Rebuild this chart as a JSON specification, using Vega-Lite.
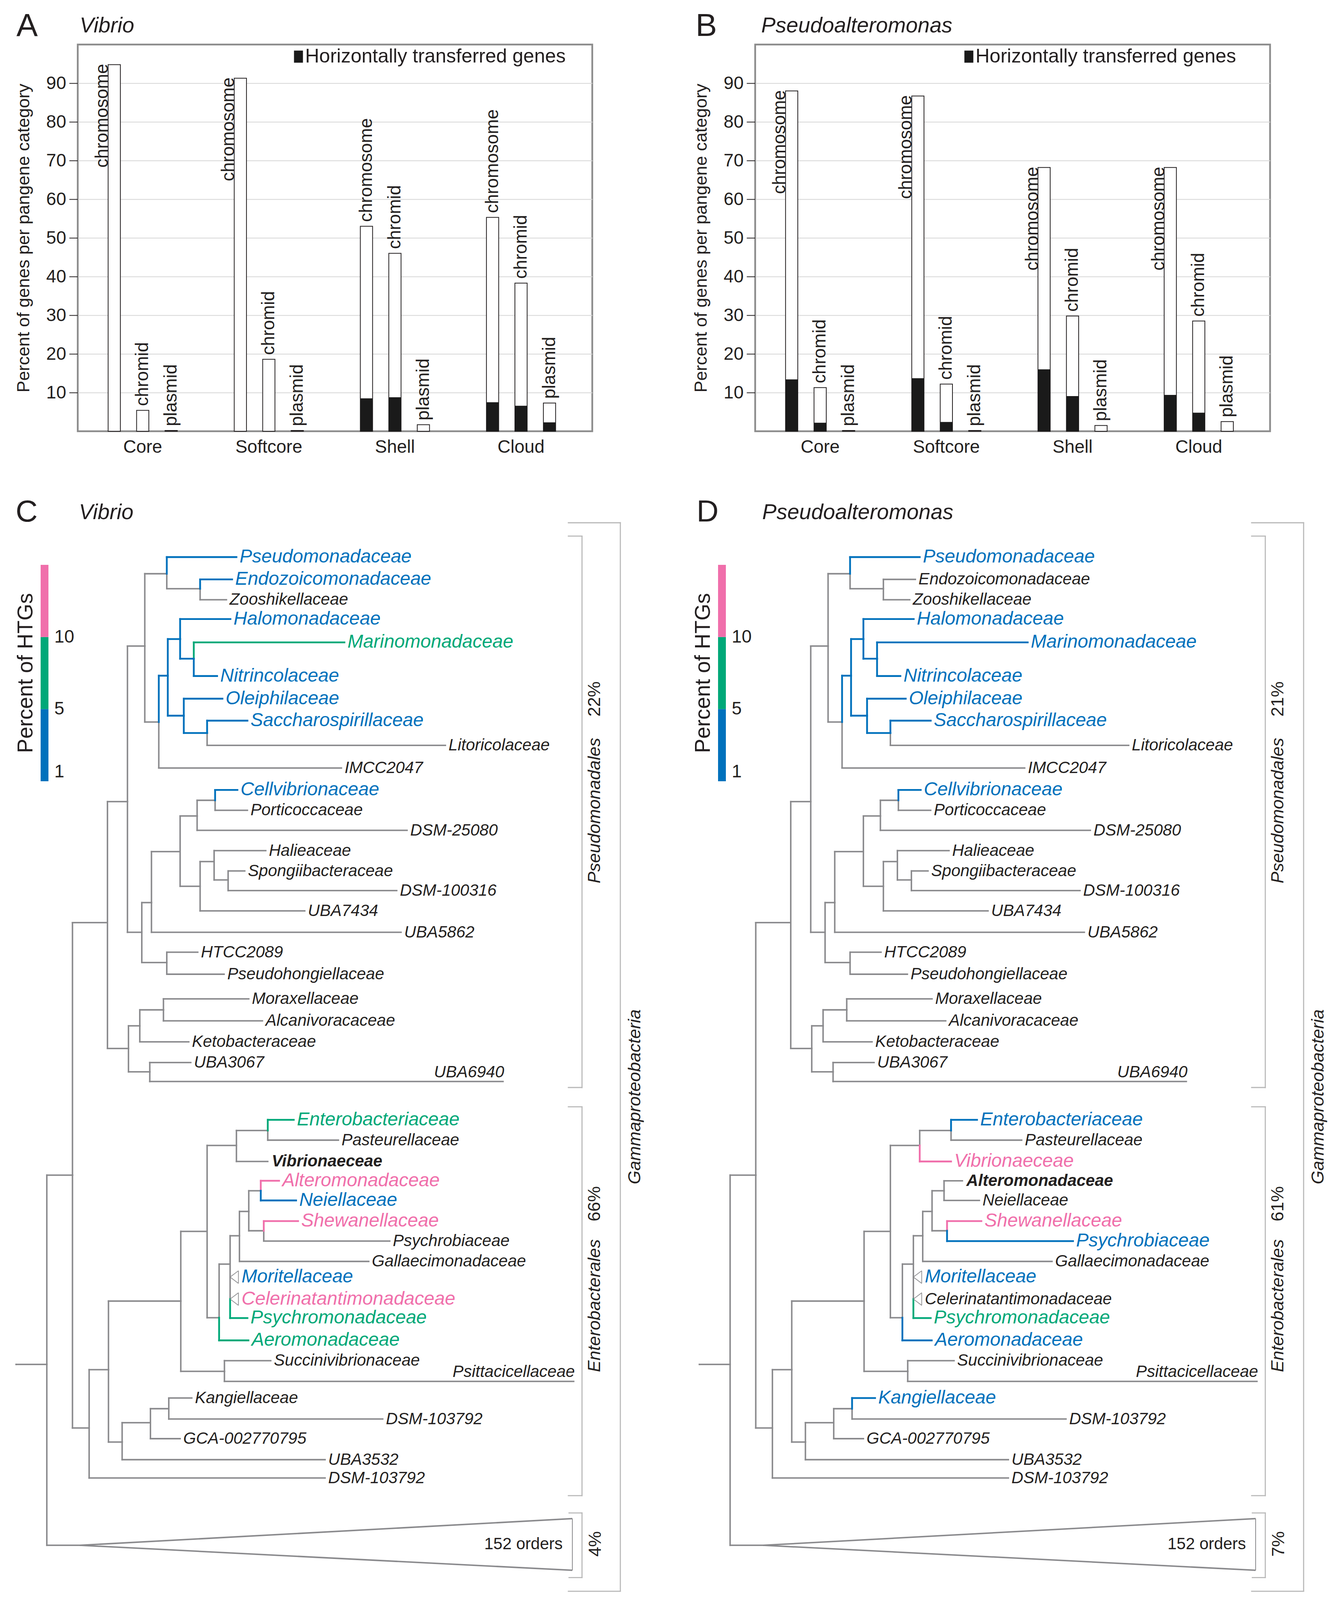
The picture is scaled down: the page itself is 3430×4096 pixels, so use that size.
{
"$schema": "https://vega.github.io/schema/vega-lite/v6.json",
"background": "white",
"padding": {"left": 36, "top": 23, "right": 5, "bottom": 5},
"spacing": 103,
"config": {
  "font": "Liberation Sans",
  "view": {"stroke": null},
  "axis": {"labelFont": "Liberation Sans", "titleFont": "Liberation Sans", "labelColor": "#231f20", "titleColor": "#231f20"},
  "legend": {"labelFont": "Liberation Sans", "titleFont": "Liberation Sans", "labelColor": "#231f20", "titleColor": "#231f20", "labelLimit": 2000, "titleLimit": 2000},
  "title": {"font": "Liberation Sans", "subtitleFont": "Liberation Sans", "color": "#231f20", "subtitleColor": "#231f20"},
  "text": {"font": "Liberation Sans"}
},
"datasets": {
  "bars": [
    {"genus":"Vibrio","category":"Core","replicon":"chromosome","total":94.8,"htg":0},
    {"genus":"Vibrio","category":"Core","replicon":"chromid","total":5.4,"htg":0},
    {"genus":"Vibrio","category":"Core","replicon":"plasmid","total":0.2,"htg":0},
    {"genus":"Vibrio","category":"Softcore","replicon":"chromosome","total":91.3,"htg":0},
    {"genus":"Vibrio","category":"Softcore","replicon":"chromid","total":18.6,"htg":0},
    {"genus":"Vibrio","category":"Softcore","replicon":"plasmid","total":0.2,"htg":0},
    {"genus":"Vibrio","category":"Shell","replicon":"chromosome","total":53.0,"htg":8.5},
    {"genus":"Vibrio","category":"Shell","replicon":"chromid","total":46.0,"htg":8.8},
    {"genus":"Vibrio","category":"Shell","replicon":"plasmid","total":1.7,"htg":0},
    {"genus":"Vibrio","category":"Cloud","replicon":"chromosome","total":55.3,"htg":7.5},
    {"genus":"Vibrio","category":"Cloud","replicon":"chromid","total":38.3,"htg":6.6},
    {"genus":"Vibrio","category":"Cloud","replicon":"plasmid","total":7.3,"htg":2.3},
    {"genus":"Pseudoalteromonas","category":"Core","replicon":"chromosome","total":88.0,"htg":13.4},
    {"genus":"Pseudoalteromonas","category":"Core","replicon":"chromid","total":11.3,"htg":2.2},
    {"genus":"Pseudoalteromonas","category":"Core","replicon":"plasmid","total":0.2,"htg":0},
    {"genus":"Pseudoalteromonas","category":"Softcore","replicon":"chromosome","total":86.7,"htg":13.7},
    {"genus":"Pseudoalteromonas","category":"Softcore","replicon":"chromid","total":12.2,"htg":2.4},
    {"genus":"Pseudoalteromonas","category":"Softcore","replicon":"plasmid","total":0.2,"htg":0},
    {"genus":"Pseudoalteromonas","category":"Shell","replicon":"chromosome","total":68.2,"htg":16.0},
    {"genus":"Pseudoalteromonas","category":"Shell","replicon":"chromid","total":29.8,"htg":9.1},
    {"genus":"Pseudoalteromonas","category":"Shell","replicon":"plasmid","total":1.5,"htg":0},
    {"genus":"Pseudoalteromonas","category":"Cloud","replicon":"chromosome","total":68.2,"htg":9.4},
    {"genus":"Pseudoalteromonas","category":"Cloud","replicon":"chromid","total":28.5,"htg":4.8},
    {"genus":"Pseudoalteromonas","category":"Cloud","replicon":"plasmid","total":2.5,"htg":0}
  ],
  "edges": [
    {"px":45,"py":4091,"cx":137,"cy":4091},
    {"px":137,"py":4091,"cx":214,"cy":3523},
    {"px":137,"py":4091,"cx":236,"cy":4634},
    {"px":214,"py":3523,"cx":319,"cy":2765},
    {"px":214,"py":3523,"cx":264,"cy":4282},
    {"px":319,"py":2765,"cx":379,"cy":2402},
    {"px":319,"py":2765,"cx":382,"cy":3143},
    {"px":379,"py":2402,"cx":431,"cy":1935},
    {"px":379,"py":2402,"cx":422,"cy":2794},
    {"px":431,"py":1935,"cx":497,"cy":1718},
    {"px":431,"py":1935,"cx":473,"cy":2163},
    {"px":497,"py":1718,"cx":706,"cy":1668,"v":1,"p":1},
    {"px":497,"py":1718,"cx":597,"cy":1763},
    {"px":597,"py":1763,"cx":693,"cy":1735,"v":1},
    {"px":597,"py":1763,"cx":676,"cy":1796},
    {"px":473,"py":2163,"cx":500,"cy":2024,"v":1,"p":1},
    {"px":473,"py":2163,"cx":1021,"cy":2301},
    {"px":500,"py":2024,"cx":537,"cy":1914,"v":1,"p":1},
    {"px":500,"py":2024,"cx":548,"cy":2144,"v":1,"p":1},
    {"px":537,"py":1914,"cx":688,"cy":1854,"v":1,"p":1},
    {"px":537,"py":1914,"cx":578,"cy":1973,"v":1,"p":1},
    {"px":578,"py":1973,"cx":1030,"cy":1924,"v":5,"p":1},
    {"px":578,"py":1973,"cx":648,"cy":2025,"v":1,"p":1},
    {"px":548,"py":2144,"cx":664,"cy":2093,"v":1,"p":1},
    {"px":548,"py":2144,"cx":618,"cy":2196,"v":1,"p":1},
    {"px":618,"py":2196,"cx":739,"cy":2159,"v":1,"p":1},
    {"px":618,"py":2196,"cx":1333,"cy":2233},
    {"px":422,"py":2794,"cx":451,"cy":2705},
    {"px":422,"py":2794,"cx":497,"cy":2885},
    {"px":451,"py":2705,"cx":537,"cy":2552},
    {"px":451,"py":2705,"cx":1200,"cy":2794},
    {"px":537,"py":2552,"cx":588,"cy":2445},
    {"px":537,"py":2552,"cx":597,"cy":2656},
    {"px":588,"py":2445,"cx":642,"cy":2398},
    {"px":588,"py":2445,"cx":1218,"cy":2488},
    {"px":642,"py":2398,"cx":709,"cy":2367,"v":1,"p":1},
    {"px":642,"py":2398,"cx":739,"cy":2428},
    {"px":597,"py":2656,"cx":639,"cy":2582},
    {"px":597,"py":2656,"cx":911,"cy":2730},
    {"px":639,"py":2582,"cx":794,"cy":2549},
    {"px":639,"py":2582,"cx":681,"cy":2637},
    {"px":681,"py":2637,"cx":731,"cy":2610},
    {"px":681,"py":2637,"cx":1187,"cy":2669},
    {"px":497,"py":2885,"cx":590,"cy":2854},
    {"px":497,"py":2885,"cx":669,"cy":2920},
    {"px":382,"py":3143,"cx":416,"cy":3075},
    {"px":382,"py":3143,"cx":446,"cy":3213},
    {"px":416,"py":3075,"cx":487,"cy":3027},
    {"px":416,"py":3075,"cx":563,"cy":3123},
    {"px":487,"py":3027,"cx":743,"cy":2994},
    {"px":487,"py":3027,"cx":784,"cy":3060},
    {"px":446,"py":3213,"cx":569,"cy":3185},
    {"px":446,"py":3213,"cx":1506,"cy":3242},
    {"px":264,"py":4282,"cx":322,"cy":4107},
    {"px":264,"py":4282,"cx":972,"cy":4432},
    {"px":322,"py":4107,"cx":539,"cy":3901},
    {"px":322,"py":4107,"cx":363,"cy":4324},
    {"px":539,"py":3901,"cx":618,"cy":3692},
    {"px":539,"py":3901,"cx":670,"cy":4112},
    {"px":618,"py":3692,"cx":706,"cy":3434},
    {"px":618,"py":3692,"cx":654,"cy":3951},
    {"px":706,"py":3434,"cx":800,"cy":3389},
    {"px":706,"py":3434,"cx":800,"cy":3482,"p":10},
    {"px":800,"py":3389,"cx":878,"cy":3357,"v":5,"p":1},
    {"px":800,"py":3389,"cx":1012,"cy":3418},
    {"px":654,"py":3951,"cx":687,"cy":3790},
    {"px":654,"py":3951,"cx":742,"cy":4019,"v":5,"p":1},
    {"px":687,"py":3790,"cx":715,"cy":3705},
    {"px":687,"py":3790,"cx":687,"cy":3829},
    {"px":687,"py":3829,"cx":687,"cy":3895},
    {"px":687,"py":3895,"cx":739,"cy":3952,"v":5,"p":5},
    {"px":715,"py":3705,"cx":743,"cy":3632},
    {"px":715,"py":3705,"cx":1103,"cy":3782},
    {"px":743,"py":3632,"cx":779,"cy":3570},
    {"px":743,"py":3632,"cx":788,"cy":3690},
    {"px":779,"py":3570,"cx":834,"cy":3540,"v":10},
    {"px":779,"py":3570,"cx":885,"cy":3599,"v":1},
    {"px":788,"py":3690,"cx":891,"cy":3661,"v":10,"p":10},
    {"px":788,"py":3690,"cx":1166,"cy":3721,"p":1},
    {"px":670,"py":4112,"cx":809,"cy":4080},
    {"px":670,"py":4112,"cx":1718,"cy":4142},
    {"px":363,"py":4324,"cx":448,"cy":4266},
    {"px":363,"py":4324,"cx":972,"cy":4377},
    {"px":448,"py":4266,"cx":503,"cy":4224},
    {"px":448,"py":4266,"cx":537,"cy":4314},
    {"px":503,"py":4224,"cx":572,"cy":4192,"p":1},
    {"px":503,"py":4224,"cx":1145,"cy":4255}
  ],
  "leaves": [
    {"name":"Pseudomonadaceae","x":706,"y":1668,"v":1,"p":1},
    {"name":"Endozoicomonadaceae","x":693,"y":1735,"v":1},
    {"name":"Zooshikellaceae","x":676,"y":1796},
    {"name":"Halomonadaceae","x":688,"y":1854,"v":1,"p":1},
    {"name":"Marinomonadaceae","x":1030,"y":1924,"v":5,"p":1},
    {"name":"Nitrincolaceae","x":648,"y":2025,"v":1,"p":1},
    {"name":"Oleiphilaceae","x":664,"y":2093,"v":1,"p":1},
    {"name":"Saccharospirillaceae","x":739,"y":2159,"v":1,"p":1},
    {"name":"Litoricolaceae","x":1333,"y":2233},
    {"name":"IMCC2047","x":1021,"y":2301},
    {"name":"Cellvibrionaceae","x":709,"y":2367,"v":1,"p":1},
    {"name":"Porticoccaceae","x":739,"y":2428},
    {"name":"DSM-25080","x":1218,"y":2488},
    {"name":"Halieaceae","x":794,"y":2549},
    {"name":"Spongiibacteraceae","x":731,"y":2610},
    {"name":"DSM-100316","x":1187,"y":2669},
    {"name":"UBA7434","x":911,"y":2730},
    {"name":"UBA5862","x":1200,"y":2794},
    {"name":"HTCC2089","x":590,"y":2854},
    {"name":"Pseudohongiellaceae","x":669,"y":2920},
    {"name":"Moraxellaceae","x":743,"y":2994},
    {"name":"Alcanivoracaceae","x":784,"y":3060},
    {"name":"Ketobacteraceae","x":563,"y":3123},
    {"name":"UBA3067","x":569,"y":3185},
    {"name":"UBA6940","x":1506,"y":3242},
    {"name":"Enterobacteriaceae","x":878,"y":3357,"v":5,"p":1},
    {"name":"Pasteurellaceae","x":1012,"y":3418},
    {"name":"Vibrionaeceae","x":800,"y":3482,"p":10,"fv":true},
    {"name":"Alteromonadaceae","x":834,"y":3540,"v":10,"fp":true},
    {"name":"Neiellaceae","x":885,"y":3599,"v":1},
    {"name":"Shewanellaceae","x":891,"y":3661,"v":10,"p":10},
    {"name":"Psychrobiaceae","x":1166,"y":3721,"p":1},
    {"name":"Gallaecimonadaceae","x":1103,"y":3782},
    {"name":"Moritellaceae","x":712,"y":3829,"v":1,"p":1},
    {"name":"Celerinatantimonadaceae","x":712,"y":3895,"v":10},
    {"name":"Psychromonadaceae","x":739,"y":3952,"v":5,"p":5},
    {"name":"Aeromonadaceae","x":742,"y":4019,"v":5,"p":1},
    {"name":"Succinivibrionaceae","x":809,"y":4080},
    {"name":"Psittacicellaceae","x":1718,"y":4142},
    {"name":"Kangiellaceae","x":572,"y":4192,"p":1},
    {"name":"DSM-103792","x":1145,"y":4255},
    {"name":"GCA-002770795","x":537,"y":4314},
    {"name":"UBA3532","x":972,"y":4377},
    {"name":"DSM-103792","x":972,"y":4432}
  ],
  "tips": [
    {"x":687,"y":3829,"x2":712,"ya":3810,"yb":3848},
    {"x":687,"y":3895,"x2":712,"ya":3876,"yb":3914}
  ],
  "collapsed": [
    {"x":236,"y":4634,"x2":1714,"ya":4554,"yb":4709}
  ],
  "brackets": [
    {"x":1858,"y1":1565,"y2":4772,"xc":1702},
    {"x":1743,"y1":1605,"y2":3260,"xc":1702},
    {"x":1743,"y1":3318,"y2":4485,"xc":1702},
    {"x":1743,"y1":4537,"y2":4731,"xc":1704}
  ],
  "clades": [
    {"name":"Pseudomonadales","x":1781,"y":2429},
    {"name":"Enterobacterales","x":1781,"y":3915},
    {"name":"Gammaproteobacteria","x":1901,"y":3288}
  ],
  "pcts": [
    {"v":"22%","p":"21%","x":1781,"y":2094},
    {"v":"66%","p":"61%","x":1781,"y":3609},
    {"v":"4%","p":"7%","x":1783,"y":4630}
  ],
  "orders": [
    {"t":"152 orders","x":1685,"y":4631}
  ]
},
"resolve": {"scale": {"x": "independent", "y": "independent", "color": "independent", "fill": "independent"}, "legend": {"color": "independent", "fill": "independent"}},
"vconcat": [
 {
  "hconcat": [
   {
    "width": 1317, "height": 990,
    "view": {"stroke": "#8c8c8c", "strokeWidth": 4.5},
    "title": {"text": "A", "subtitle": "\u200b\u00a0\u00a0\u00a0\u00a0\u00a0\u00a0\u00a0\u00a0\u00a0\u00a0\u2006Vibrio", "anchor": "start", "frame": "group", "dx": -157, "fontSize": 82, "fontWeight": "normal", "baseline": "top", "offset": 5.5, "subtitleFontSize": 55, "subtitleFontStyle": "italic", "subtitlePadding": -68.7},
    "data": {"name": "bars"},
    "transform": [{"filter": "datum.genus == 'Vibrio'"}],
    "encoding": {
      "x": {"field": "category", "type": "nominal", "sort": ["Core","Softcore","Shell","Cloud"], "scale": {"paddingInner": 0, "paddingOuter": 0.04, "align": 0.19}, "axis": {"title": null, "ticks": false, "tickSize": 0, "domain": false, "labelAngle": 0, "labelFontSize": 46, "labelPadding": 18}},
      "xOffset": {"field": "replicon", "type": "nominal", "sort": ["chromosome","chromid","plasmid"], "scale": {"paddingInner": 0.57, "paddingOuter": 1.615}}
    },
    "layer": [
      {"mark": {"type": "bar", "fill": "white", "stroke": "#231f20", "strokeWidth": 2},
       "encoding": {"y": {"field": "total", "type": "quantitative", "scale": {"domain": [0, 100]},
         "axis": {"title": "Percent of genes per pangene category", "titleFontSize": 45, "titleFontWeight": "normal", "titlePadding": 34, "values": [10,20,30,40,50,60,70,80,90], "grid": true, "gridColor": "#d6d6d6", "gridWidth": 2, "domain": false, "tickSize": 22, "tickWidth": 2, "tickColor": "#231f20", "labelFontSize": 46, "labelPadding": 8}}}},
      {"mark": {"type": "bar"},
       "encoding": {"y": {"field": "htg", "type": "quantitative", "scale": {"domain": [0, 100]},
         "axis": {"title": "Percent of genes per pangene category", "titleFontSize": 45, "titleFontWeight": "normal", "titlePadding": 34, "values": [10,20,30,40,50,60,70,80,90], "grid": true, "gridColor": "#d6d6d6", "gridWidth": 2, "domain": false, "tickSize": 22, "tickWidth": 2, "tickColor": "#231f20", "labelFontSize": 46, "labelPadding": 8}},
         "fill": {"datum": "Horizontally transferred genes", "type": "nominal", "scale": {"range": ["#1a1a1a"]},
           "legend": {"title": null, "orient": "none", "legendX": 540, "legendY": 6, "symbolType": "M-0.74,-1L0.74,-1L0.74,1L-0.74,1Z", "symbolSize": 961, "symbolStrokeWidth": 0, "labelFontSize": 50, "labelOffset": -8, "labelLimit": 2000, "padding": 0}}}},
      {"transform": [{"filter": "!(datum.replicon == 'chromosome' && (datum.genus == 'Pseudoalteromonas' || datum.total > 80))"}],
       "mark": {"type": "text", "angle": 270, "align": "left", "baseline": "middle", "dx": 11, "fontSize": 46, "color": "#231f20"},
       "encoding": {"y": {"field": "total", "type": "quantitative", "scale": {"domain": [0, 100]},
         "axis": {"title": "Percent of genes per pangene category", "titleFontSize": 45, "titleFontWeight": "normal", "titlePadding": 34, "values": [10,20,30,40,50,60,70,80,90], "grid": true, "gridColor": "#d6d6d6", "gridWidth": 2, "domain": false, "tickSize": 22, "tickWidth": 2, "tickColor": "#231f20", "labelFontSize": 46, "labelPadding": 8}}, "text": {"field": "replicon"}}},
      {"transform": [{"filter": "datum.replicon == 'chromosome' && (datum.genus == 'Pseudoalteromonas' || datum.total > 80)"}],
       "mark": {"type": "text", "angle": 270, "align": "right", "baseline": "alphabetic", "dx": 2, "dy": -16, "fontSize": 46, "color": "#231f20"},
       "encoding": {"y": {"field": "total", "type": "quantitative", "scale": {"domain": [0, 100]},
         "axis": {"title": "Percent of genes per pangene category", "titleFontSize": 45, "titleFontWeight": "normal", "titlePadding": 34, "values": [10,20,30,40,50,60,70,80,90], "grid": true, "gridColor": "#d6d6d6", "gridWidth": 2, "domain": false, "tickSize": 22, "tickWidth": 2, "tickColor": "#231f20", "labelFontSize": 46, "labelPadding": 8}}, "text": {"field": "replicon"}}}
    ]
   },
   {
    "width": 1318, "height": 990,
    "view": {"stroke": "#8c8c8c", "strokeWidth": 4.5},
    "title": {"text": "B", "subtitle": "\u200b\u00a0\u00a0\u00a0\u00a0\u00a0\u00a0\u00a0\u00a0\u00a0\u00a0\u00a0Pseudoalteromonas", "anchor": "start", "frame": "group", "dx": -152.5, "fontSize": 82, "fontWeight": "normal", "baseline": "top", "offset": 5.5, "subtitleFontSize": 55, "subtitleFontStyle": "italic", "subtitlePadding": -68.7},
    "data": {"name": "bars"},
    "transform": [{"filter": "datum.genus == 'Pseudoalteromonas'"}],
    "encoding": {
      "x": {"field": "category", "type": "nominal", "sort": ["Core","Softcore","Shell","Cloud"], "scale": {"paddingInner": 0, "paddingOuter": 0.04, "align": 0.19}, "axis": {"title": null, "ticks": false, "tickSize": 0, "domain": false, "labelAngle": 0, "labelFontSize": 46, "labelPadding": 18}},
      "xOffset": {"field": "replicon", "type": "nominal", "sort": ["chromosome","chromid","plasmid"], "scale": {"paddingInner": 0.57, "paddingOuter": 1.615}}
    },
    "layer": [
      {"mark": {"type": "bar", "fill": "white", "stroke": "#231f20", "strokeWidth": 2},
       "encoding": {"y": {"field": "total", "type": "quantitative", "scale": {"domain": [0, 100]},
         "axis": {"title": "Percent of genes per pangene category", "titleFontSize": 45, "titleFontWeight": "normal", "titlePadding": 34, "values": [10,20,30,40,50,60,70,80,90], "grid": true, "gridColor": "#d6d6d6", "gridWidth": 2, "domain": false, "tickSize": 22, "tickWidth": 2, "tickColor": "#231f20", "labelFontSize": 46, "labelPadding": 8}}}},
      {"mark": {"type": "bar"},
       "encoding": {"y": {"field": "htg", "type": "quantitative", "scale": {"domain": [0, 100]},
         "axis": {"title": "Percent of genes per pangene category", "titleFontSize": 45, "titleFontWeight": "normal", "titlePadding": 34, "values": [10,20,30,40,50,60,70,80,90], "grid": true, "gridColor": "#d6d6d6", "gridWidth": 2, "domain": false, "tickSize": 22, "tickWidth": 2, "tickColor": "#231f20", "labelFontSize": 46, "labelPadding": 8}},
         "fill": {"datum": "Horizontally transferred genes", "type": "nominal", "scale": {"range": ["#1a1a1a"]},
           "legend": {"title": null, "orient": "none", "legendX": 522, "legendY": 6, "symbolType": "M-0.74,-1L0.74,-1L0.74,1L-0.74,1Z", "symbolSize": 961, "symbolStrokeWidth": 0, "labelFontSize": 50, "labelOffset": -8, "labelLimit": 2000, "padding": 0}}}},
      {"transform": [{"filter": "!(datum.replicon == 'chromosome' && (datum.genus == 'Pseudoalteromonas' || datum.total > 80))"}],
       "mark": {"type": "text", "angle": 270, "align": "left", "baseline": "middle", "dx": 11, "fontSize": 46, "color": "#231f20"},
       "encoding": {"y": {"field": "total", "type": "quantitative", "scale": {"domain": [0, 100]},
         "axis": {"title": "Percent of genes per pangene category", "titleFontSize": 45, "titleFontWeight": "normal", "titlePadding": 34, "values": [10,20,30,40,50,60,70,80,90], "grid": true, "gridColor": "#d6d6d6", "gridWidth": 2, "domain": false, "tickSize": 22, "tickWidth": 2, "tickColor": "#231f20", "labelFontSize": 46, "labelPadding": 8}}, "text": {"field": "replicon"}}},
      {"transform": [{"filter": "datum.replicon == 'chromosome' && (datum.genus == 'Pseudoalteromonas' || datum.total > 80)"}],
       "mark": {"type": "text", "angle": 270, "align": "right", "baseline": "alphabetic", "dx": 2, "dy": -16, "fontSize": 46, "color": "#231f20"},
       "encoding": {"y": {"field": "total", "type": "quantitative", "scale": {"domain": [0, 100]},
         "axis": {"title": "Percent of genes per pangene category", "titleFontSize": 45, "titleFontWeight": "normal", "titlePadding": 34, "values": [10,20,30,40,50,60,70,80,90], "grid": true, "gridColor": "#d6d6d6", "gridWidth": 2, "domain": false, "tickSize": 22, "tickWidth": 2, "tickColor": "#231f20", "labelFontSize": 46, "labelPadding": 8}}, "text": {"field": "replicon"}}}
    ]
   }
  ],
  "spacing": 417,
  "bounds": "flush",
  "resolve": {"scale": {"x": "independent", "y": "independent", "fill": "independent"}, "legend": {"fill": "independent"}}
 },
 {
  "hconcat": [
   {
    "width": 1463, "height": 2755,
    "title": {"text": "C", "subtitle": "\u200b\u00a0\u00a0\u00a0\u00a0\u00a0\u00a0\u00a0\u00a0\u00a0\u00a0\u2006Vibrio", "anchor": "start", "frame": "group", "dx": -159, "fontSize": 78, "fontWeight": "normal", "baseline": "top", "offset": -17.4, "subtitleFontSize": 55, "subtitleFontStyle": "italic", "subtitlePadding": -65.9},
    "layer": [
      {"data": {"name": "brackets"}, "mark": {"type": "rule", "color": "#b8b8b8", "strokeWidth": 2.8, "strokeCap": "square"},
       "encoding": {"x": {"field": "x", "type": "quantitative", "scale": {"domain": [229.8, 1944.9]}, "axis": null}, "y": {"field": "y1", "type": "quantitative", "scale": {"domain": [1560, 4790], "reverse": true}, "axis": null}, "y2": {"field": "y2"}}},
      {"data": {"name": "brackets"}, "mark": {"type": "rule", "color": "#b8b8b8", "strokeWidth": 2.8, "strokeCap": "square"},
       "encoding": {"x": {"field": "xc", "type": "quantitative", "scale": {"domain": [229.8, 1944.9]}, "axis": null}, "x2": {"field": "x"}, "y": {"field": "y1", "type": "quantitative", "scale": {"domain": [1560, 4790], "reverse": true}, "axis": null}}},
      {"data": {"name": "brackets"}, "mark": {"type": "rule", "color": "#b8b8b8", "strokeWidth": 2.8, "strokeCap": "square"},
       "encoding": {"x": {"field": "xc", "type": "quantitative", "scale": {"domain": [229.8, 1944.9]}, "axis": null}, "x2": {"field": "x"}, "y": {"field": "y2", "type": "quantitative", "scale": {"domain": [1560, 4790], "reverse": true}, "axis": null}}},
      {"data": {"name": "edges"}, "transform": [{"filter": "datum.v == null"}], "mark": {"type": "rule", "color": "#8a8a8d", "strokeWidth": 3.8, "strokeCap": "square"},
       "encoding": {"x": {"field": "px", "type": "quantitative", "scale": {"domain": [229.8, 1944.9]}, "axis": null}, "y": {"field": "py", "type": "quantitative", "scale": {"domain": [1560, 4790], "reverse": true}, "axis": null}, "y2": {"field": "cy"}}},
      {"data": {"name": "edges"}, "transform": [{"filter": "datum.v == null"}], "mark": {"type": "rule", "color": "#8a8a8d", "strokeWidth": 3.8, "strokeCap": "square"},
       "encoding": {"x": {"field": "px", "type": "quantitative", "scale": {"domain": [229.8, 1944.9]}, "axis": null}, "x2": {"field": "cx"}, "y": {"field": "cy", "type": "quantitative", "scale": {"domain": [1560, 4790], "reverse": true}, "axis": null}}},
      {"data": {"name": "edges"}, "transform": [{"filter": "datum.v != null"}], "mark": {"type": "rule", "strokeWidth": 4.6, "strokeCap": "square"},
       "encoding": {"x": {"field": "px", "type": "quantitative", "scale": {"domain": [229.8, 1944.9]}, "axis": null}, "y": {"field": "py", "type": "quantitative", "scale": {"domain": [1560, 4790], "reverse": true}, "axis": null}, "y2": {"field": "cy"},
         "color": {"field": "v", "type": "quantitative", "scale": {"type": "threshold", "domain": [5, 10], "range": ["#0071bc", "#00a878", "#f06fab"]},
           "legend": {"title": "Percent of HTGs", "type": "gradient", "orient": "none", "legendX": -160, "legendY": 112, "direction": "vertical", "titleOrient": "left", "titleAnchor": "middle", "titleFontSize": 55, "titleFontWeight": "normal", "titlePadding": 8, "titleLimit": 2000, "gradientLength": 554, "gradientThickness": 20, "gradientStrokeWidth": 0, "labelFontSize": 46, "labelOffset": 15, "labelExpr": "datum.value < 5 ? '1' : datum.label", "padding": 0}}}},
      {"data": {"name": "edges"}, "transform": [{"filter": "datum.v != null"}], "mark": {"type": "rule", "strokeWidth": 4.6, "strokeCap": "square"},
       "encoding": {"x": {"field": "px", "type": "quantitative", "scale": {"domain": [229.8, 1944.9]}, "axis": null}, "x2": {"field": "cx"}, "y": {"field": "cy", "type": "quantitative", "scale": {"domain": [1560, 4790], "reverse": true}, "axis": null},
         "color": {"field": "v", "type": "quantitative", "scale": {"type": "threshold", "domain": [5, 10], "range": ["#0071bc", "#00a878", "#f06fab"]},
           "legend": {"title": "Percent of HTGs", "type": "gradient", "orient": "none", "legendX": -160, "legendY": 112, "direction": "vertical", "titleOrient": "left", "titleAnchor": "middle", "titleFontSize": 55, "titleFontWeight": "normal", "titlePadding": 8, "titleLimit": 2000, "gradientLength": 554, "gradientThickness": 20, "gradientStrokeWidth": 0, "labelFontSize": 46, "labelOffset": 15, "labelExpr": "datum.value < 5 ? '1' : datum.label", "padding": 0}}}},
      {"data": {"name": "tips"}, "mark": {"type": "rule", "color": "#8a8a8d", "strokeWidth": 1.8},
       "encoding": {"x": {"field": "x", "type": "quantitative", "scale": {"domain": [229.8, 1944.9]}, "axis": null}, "x2": {"field": "x2"}, "y": {"field": "y", "type": "quantitative", "scale": {"domain": [1560, 4790], "reverse": true}, "axis": null}, "y2": {"field": "ya"}}},
      {"data": {"name": "tips"}, "mark": {"type": "rule", "color": "#8a8a8d", "strokeWidth": 1.8},
       "encoding": {"x": {"field": "x", "type": "quantitative", "scale": {"domain": [229.8, 1944.9]}, "axis": null}, "x2": {"field": "x2"}, "y": {"field": "y", "type": "quantitative", "scale": {"domain": [1560, 4790], "reverse": true}, "axis": null}, "y2": {"field": "yb"}}},
      {"data": {"name": "tips"}, "mark": {"type": "rule", "color": "#8a8a8d", "strokeWidth": 1.8},
       "encoding": {"x": {"field": "x2", "type": "quantitative", "scale": {"domain": [229.8, 1944.9]}, "axis": null}, "y": {"field": "ya", "type": "quantitative", "scale": {"domain": [1560, 4790], "reverse": true}, "axis": null}, "y2": {"field": "yb"}}},
      {"data": {"name": "collapsed"}, "mark": {"type": "rule", "color": "#8a8a8d", "strokeWidth": 3.8},
       "encoding": {"x": {"field": "x", "type": "quantitative", "scale": {"domain": [229.8, 1944.9]}, "axis": null}, "x2": {"field": "x2"}, "y": {"field": "y", "type": "quantitative", "scale": {"domain": [1560, 4790], "reverse": true}, "axis": null}, "y2": {"field": "ya"}}},
      {"data": {"name": "collapsed"}, "mark": {"type": "rule", "color": "#8a8a8d", "strokeWidth": 3.8},
       "encoding": {"x": {"field": "x", "type": "quantitative", "scale": {"domain": [229.8, 1944.9]}, "axis": null}, "x2": {"field": "x2"}, "y": {"field": "y", "type": "quantitative", "scale": {"domain": [1560, 4790], "reverse": true}, "axis": null}, "y2": {"field": "yb"}}},
      {"data": {"name": "collapsed"}, "mark": {"type": "rule", "color": "#8a8a8d", "strokeWidth": 2},
       "encoding": {"x": {"field": "x2", "type": "quantitative", "scale": {"domain": [229.8, 1944.9]}, "axis": null}, "y": {"field": "ya", "type": "quantitative", "scale": {"domain": [1560, 4790], "reverse": true}, "axis": null}, "y2": {"field": "yb"}}},
      {"data": {"name": "leaves"}, "transform": [{"filter": "datum.v != null && !datum.fv"}], "mark": {"type": "text", "align": "left", "baseline": "middle", "dx": 8, "fontSize": 48, "fontStyle": "italic"},
       "encoding": {"x": {"field": "x", "type": "quantitative", "scale": {"domain": [229.8, 1944.9]}, "axis": null}, "y": {"field": "y", "type": "quantitative", "scale": {"domain": [1560, 4790], "reverse": true}, "axis": null}, "text": {"field": "name"},
         "color": {"field": "v", "type": "quantitative", "scale": {"type": "threshold", "domain": [5, 10], "range": ["#0071bc", "#00a878", "#f06fab"]},
           "legend": {"title": "Percent of HTGs", "type": "gradient", "orient": "none", "legendX": -160, "legendY": 112, "direction": "vertical", "titleOrient": "left", "titleAnchor": "middle", "titleFontSize": 55, "titleFontWeight": "normal", "titlePadding": 8, "titleLimit": 2000, "gradientLength": 554, "gradientThickness": 20, "gradientStrokeWidth": 0, "labelFontSize": 46, "labelOffset": 15, "labelExpr": "datum.value < 5 ? '1' : datum.label", "padding": 0}}}},
      {"data": {"name": "leaves"}, "transform": [{"filter": "datum.v == null && !datum.fv && datum.name != 'UBA6940' && datum.name != 'Psittacicellaceae'"}], "mark": {"type": "text", "align": "left", "baseline": "middle", "dx": 8, "fontSize": 42, "fontStyle": "italic", "color": "#231f20"},
       "encoding": {"x": {"field": "x", "type": "quantitative", "scale": {"domain": [229.8, 1944.9]}, "axis": null}, "y": {"field": "y", "type": "quantitative", "scale": {"domain": [1560, 4790], "reverse": true}, "axis": null}, "text": {"field": "name"}}},
      {"data": {"name": "leaves"}, "transform": [{"filter": "datum.fv"}], "mark": {"type": "text", "align": "left", "baseline": "middle", "dx": 10, "fontSize": 42, "fontStyle": "italic", "fontWeight": "bold", "color": "#231f20"},
       "encoding": {"x": {"field": "x", "type": "quantitative", "scale": {"domain": [229.8, 1944.9]}, "axis": null}, "y": {"field": "y", "type": "quantitative", "scale": {"domain": [1560, 4790], "reverse": true}, "axis": null}, "text": {"field": "name"}}},
      {"data": {"name": "leaves"}, "transform": [{"filter": "datum.name == 'UBA6940' || datum.name == 'Psittacicellaceae'"}], "mark": {"type": "text", "align": "right", "baseline": "alphabetic", "dx": 3, "dy": -11, "fontSize": 42, "fontStyle": "italic", "color": "#231f20"},
       "encoding": {"x": {"field": "x", "type": "quantitative", "scale": {"domain": [229.8, 1944.9]}, "axis": null}, "y": {"field": "y", "type": "quantitative", "scale": {"domain": [1560, 4790], "reverse": true}, "axis": null}, "text": {"field": "name"}}},
      {"data": {"name": "clades"}, "mark": {"type": "text", "angle": 270, "align": "center", "baseline": "middle", "fontSize": 45, "fontStyle": "italic", "color": "#231f20"},
       "encoding": {"x": {"field": "x", "type": "quantitative", "scale": {"domain": [229.8, 1944.9]}, "axis": null}, "y": {"field": "y", "type": "quantitative", "scale": {"domain": [1560, 4790], "reverse": true}, "axis": null}, "text": {"field": "name"}}},
      {"data": {"name": "pcts"}, "mark": {"type": "text", "angle": 270, "align": "center", "baseline": "middle", "fontSize": 45, "color": "#231f20"},
       "encoding": {"x": {"field": "x", "type": "quantitative", "scale": {"domain": [229.8, 1944.9]}, "axis": null}, "y": {"field": "y", "type": "quantitative", "scale": {"domain": [1560, 4790], "reverse": true}, "axis": null}, "text": {"field": "v"}}},
      {"data": {"name": "orders"}, "mark": {"type": "text", "align": "right", "baseline": "middle", "fontSize": 42, "color": "#231f20"},
       "encoding": {"x": {"field": "x", "type": "quantitative", "scale": {"domain": [229.8, 1944.9]}, "axis": null}, "y": {"field": "y", "type": "quantitative", "scale": {"domain": [1560, 4790], "reverse": true}, "axis": null}, "text": {"field": "t"}}}
    ]
   },
   {
    "width": 1463, "height": 2755,
    "title": {"text": "D", "subtitle": "\u200b\u00a0\u00a0\u00a0\u00a0\u00a0\u00a0\u00a0\u00a0\u00a0\u00a0\u00a0Pseudoalteromonas", "anchor": "start", "frame": "group", "dx": -165, "fontSize": 78, "fontWeight": "normal", "baseline": "top", "offset": -17.4, "subtitleFontSize": 55, "subtitleFontStyle": "italic", "subtitlePadding": -65.9},
    "layer": [
      {"data": {"name": "brackets"}, "mark": {"type": "rule", "color": "#b8b8b8", "strokeWidth": 2.8, "strokeCap": "square"},
       "encoding": {"x": {"field": "x", "type": "quantitative", "scale": {"domain": [229.8, 1944.9]}, "axis": null}, "y": {"field": "y1", "type": "quantitative", "scale": {"domain": [1560, 4790], "reverse": true}, "axis": null}, "y2": {"field": "y2"}}},
      {"data": {"name": "brackets"}, "mark": {"type": "rule", "color": "#b8b8b8", "strokeWidth": 2.8, "strokeCap": "square"},
       "encoding": {"x": {"field": "xc", "type": "quantitative", "scale": {"domain": [229.8, 1944.9]}, "axis": null}, "x2": {"field": "x"}, "y": {"field": "y1", "type": "quantitative", "scale": {"domain": [1560, 4790], "reverse": true}, "axis": null}}},
      {"data": {"name": "brackets"}, "mark": {"type": "rule", "color": "#b8b8b8", "strokeWidth": 2.8, "strokeCap": "square"},
       "encoding": {"x": {"field": "xc", "type": "quantitative", "scale": {"domain": [229.8, 1944.9]}, "axis": null}, "x2": {"field": "x"}, "y": {"field": "y2", "type": "quantitative", "scale": {"domain": [1560, 4790], "reverse": true}, "axis": null}}},
      {"data": {"name": "edges"}, "transform": [{"filter": "datum.p == null"}], "mark": {"type": "rule", "color": "#8a8a8d", "strokeWidth": 3.8, "strokeCap": "square"},
       "encoding": {"x": {"field": "px", "type": "quantitative", "scale": {"domain": [229.8, 1944.9]}, "axis": null}, "y": {"field": "py", "type": "quantitative", "scale": {"domain": [1560, 4790], "reverse": true}, "axis": null}, "y2": {"field": "cy"}}},
      {"data": {"name": "edges"}, "transform": [{"filter": "datum.p == null"}], "mark": {"type": "rule", "color": "#8a8a8d", "strokeWidth": 3.8, "strokeCap": "square"},
       "encoding": {"x": {"field": "px", "type": "quantitative", "scale": {"domain": [229.8, 1944.9]}, "axis": null}, "x2": {"field": "cx"}, "y": {"field": "cy", "type": "quantitative", "scale": {"domain": [1560, 4790], "reverse": true}, "axis": null}}},
      {"data": {"name": "edges"}, "transform": [{"filter": "datum.p != null"}], "mark": {"type": "rule", "strokeWidth": 4.6, "strokeCap": "square"},
       "encoding": {"x": {"field": "px", "type": "quantitative", "scale": {"domain": [229.8, 1944.9]}, "axis": null}, "y": {"field": "py", "type": "quantitative", "scale": {"domain": [1560, 4790], "reverse": true}, "axis": null}, "y2": {"field": "cy"},
         "color": {"field": "p", "type": "quantitative", "scale": {"type": "threshold", "domain": [5, 10], "range": ["#0071bc", "#00a878", "#f06fab"]},
           "legend": {"title": "Percent of HTGs", "type": "gradient", "orient": "none", "legendX": -175, "legendY": 112, "direction": "vertical", "titleOrient": "left", "titleAnchor": "middle", "titleFontSize": 55, "titleFontWeight": "normal", "titlePadding": 8, "titleLimit": 2000, "gradientLength": 554, "gradientThickness": 20, "gradientStrokeWidth": 0, "labelFontSize": 46, "labelOffset": 15, "labelExpr": "datum.value < 5 ? '1' : datum.label", "padding": 0}}}},
      {"data": {"name": "edges"}, "transform": [{"filter": "datum.p != null"}], "mark": {"type": "rule", "strokeWidth": 4.6, "strokeCap": "square"},
       "encoding": {"x": {"field": "px", "type": "quantitative", "scale": {"domain": [229.8, 1944.9]}, "axis": null}, "x2": {"field": "cx"}, "y": {"field": "cy", "type": "quantitative", "scale": {"domain": [1560, 4790], "reverse": true}, "axis": null},
         "color": {"field": "p", "type": "quantitative", "scale": {"type": "threshold", "domain": [5, 10], "range": ["#0071bc", "#00a878", "#f06fab"]},
           "legend": {"title": "Percent of HTGs", "type": "gradient", "orient": "none", "legendX": -175, "legendY": 112, "direction": "vertical", "titleOrient": "left", "titleAnchor": "middle", "titleFontSize": 55, "titleFontWeight": "normal", "titlePadding": 8, "titleLimit": 2000, "gradientLength": 554, "gradientThickness": 20, "gradientStrokeWidth": 0, "labelFontSize": 46, "labelOffset": 15, "labelExpr": "datum.value < 5 ? '1' : datum.label", "padding": 0}}}},
      {"data": {"name": "tips"}, "mark": {"type": "rule", "color": "#8a8a8d", "strokeWidth": 1.8},
       "encoding": {"x": {"field": "x", "type": "quantitative", "scale": {"domain": [229.8, 1944.9]}, "axis": null}, "x2": {"field": "x2"}, "y": {"field": "y", "type": "quantitative", "scale": {"domain": [1560, 4790], "reverse": true}, "axis": null}, "y2": {"field": "ya"}}},
      {"data": {"name": "tips"}, "mark": {"type": "rule", "color": "#8a8a8d", "strokeWidth": 1.8},
       "encoding": {"x": {"field": "x", "type": "quantitative", "scale": {"domain": [229.8, 1944.9]}, "axis": null}, "x2": {"field": "x2"}, "y": {"field": "y", "type": "quantitative", "scale": {"domain": [1560, 4790], "reverse": true}, "axis": null}, "y2": {"field": "yb"}}},
      {"data": {"name": "tips"}, "mark": {"type": "rule", "color": "#8a8a8d", "strokeWidth": 1.8},
       "encoding": {"x": {"field": "x2", "type": "quantitative", "scale": {"domain": [229.8, 1944.9]}, "axis": null}, "y": {"field": "ya", "type": "quantitative", "scale": {"domain": [1560, 4790], "reverse": true}, "axis": null}, "y2": {"field": "yb"}}},
      {"data": {"name": "collapsed"}, "mark": {"type": "rule", "color": "#8a8a8d", "strokeWidth": 3.8},
       "encoding": {"x": {"field": "x", "type": "quantitative", "scale": {"domain": [229.8, 1944.9]}, "axis": null}, "x2": {"field": "x2"}, "y": {"field": "y", "type": "quantitative", "scale": {"domain": [1560, 4790], "reverse": true}, "axis": null}, "y2": {"field": "ya"}}},
      {"data": {"name": "collapsed"}, "mark": {"type": "rule", "color": "#8a8a8d", "strokeWidth": 3.8},
       "encoding": {"x": {"field": "x", "type": "quantitative", "scale": {"domain": [229.8, 1944.9]}, "axis": null}, "x2": {"field": "x2"}, "y": {"field": "y", "type": "quantitative", "scale": {"domain": [1560, 4790], "reverse": true}, "axis": null}, "y2": {"field": "yb"}}},
      {"data": {"name": "collapsed"}, "mark": {"type": "rule", "color": "#8a8a8d", "strokeWidth": 2},
       "encoding": {"x": {"field": "x2", "type": "quantitative", "scale": {"domain": [229.8, 1944.9]}, "axis": null}, "y": {"field": "ya", "type": "quantitative", "scale": {"domain": [1560, 4790], "reverse": true}, "axis": null}, "y2": {"field": "yb"}}},
      {"data": {"name": "leaves"}, "transform": [{"filter": "datum.p != null && !datum.fp"}], "mark": {"type": "text", "align": "left", "baseline": "middle", "dx": 8, "fontSize": 48, "fontStyle": "italic"},
       "encoding": {"x": {"field": "x", "type": "quantitative", "scale": {"domain": [229.8, 1944.9]}, "axis": null}, "y": {"field": "y", "type": "quantitative", "scale": {"domain": [1560, 4790], "reverse": true}, "axis": null}, "text": {"field": "name"},
         "color": {"field": "p", "type": "quantitative", "scale": {"type": "threshold", "domain": [5, 10], "range": ["#0071bc", "#00a878", "#f06fab"]},
           "legend": {"title": "Percent of HTGs", "type": "gradient", "orient": "none", "legendX": -175, "legendY": 112, "direction": "vertical", "titleOrient": "left", "titleAnchor": "middle", "titleFontSize": 55, "titleFontWeight": "normal", "titlePadding": 8, "titleLimit": 2000, "gradientLength": 554, "gradientThickness": 20, "gradientStrokeWidth": 0, "labelFontSize": 46, "labelOffset": 15, "labelExpr": "datum.value < 5 ? '1' : datum.label", "padding": 0}}}},
      {"data": {"name": "leaves"}, "transform": [{"filter": "datum.p == null && !datum.fp && datum.name != 'UBA6940' && datum.name != 'Psittacicellaceae'"}], "mark": {"type": "text", "align": "left", "baseline": "middle", "dx": 8, "fontSize": 42, "fontStyle": "italic", "color": "#231f20"},
       "encoding": {"x": {"field": "x", "type": "quantitative", "scale": {"domain": [229.8, 1944.9]}, "axis": null}, "y": {"field": "y", "type": "quantitative", "scale": {"domain": [1560, 4790], "reverse": true}, "axis": null}, "text": {"field": "name"}}},
      {"data": {"name": "leaves"}, "transform": [{"filter": "datum.fp"}], "mark": {"type": "text", "align": "left", "baseline": "middle", "dx": 10, "fontSize": 42, "fontStyle": "italic", "fontWeight": "bold", "color": "#231f20"},
       "encoding": {"x": {"field": "x", "type": "quantitative", "scale": {"domain": [229.8, 1944.9]}, "axis": null}, "y": {"field": "y", "type": "quantitative", "scale": {"domain": [1560, 4790], "reverse": true}, "axis": null}, "text": {"field": "name"}}},
      {"data": {"name": "leaves"}, "transform": [{"filter": "datum.name == 'UBA6940' || datum.name == 'Psittacicellaceae'"}], "mark": {"type": "text", "align": "right", "baseline": "alphabetic", "dx": 3, "dy": -11, "fontSize": 42, "fontStyle": "italic", "color": "#231f20"},
       "encoding": {"x": {"field": "x", "type": "quantitative", "scale": {"domain": [229.8, 1944.9]}, "axis": null}, "y": {"field": "y", "type": "quantitative", "scale": {"domain": [1560, 4790], "reverse": true}, "axis": null}, "text": {"field": "name"}}},
      {"data": {"name": "clades"}, "mark": {"type": "text", "angle": 270, "align": "center", "baseline": "middle", "fontSize": 45, "fontStyle": "italic", "color": "#231f20"},
       "encoding": {"x": {"field": "x", "type": "quantitative", "scale": {"domain": [229.8, 1944.9]}, "axis": null}, "y": {"field": "y", "type": "quantitative", "scale": {"domain": [1560, 4790], "reverse": true}, "axis": null}, "text": {"field": "name"}}},
      {"data": {"name": "pcts"}, "mark": {"type": "text", "angle": 270, "align": "center", "baseline": "middle", "fontSize": 45, "color": "#231f20"},
       "encoding": {"x": {"field": "x", "type": "quantitative", "scale": {"domain": [229.8, 1944.9]}, "axis": null}, "y": {"field": "y", "type": "quantitative", "scale": {"domain": [1560, 4790], "reverse": true}, "axis": null}, "text": {"field": "p"}}},
      {"data": {"name": "orders"}, "mark": {"type": "text", "align": "right", "baseline": "middle", "fontSize": 42, "color": "#231f20"},
       "encoding": {"x": {"field": "x", "type": "quantitative", "scale": {"domain": [229.8, 1944.9]}, "axis": null}, "y": {"field": "y", "type": "quantitative", "scale": {"domain": [1560, 4790], "reverse": true}, "axis": null}, "text": {"field": "t"}}}
    ]
   }
  ],
  "spacing": 286,
  "bounds": "flush",
  "resolve": {"scale": {"x": "independent", "y": "independent", "color": "independent"}, "legend": {"color": "independent"}}
 }
]
}
